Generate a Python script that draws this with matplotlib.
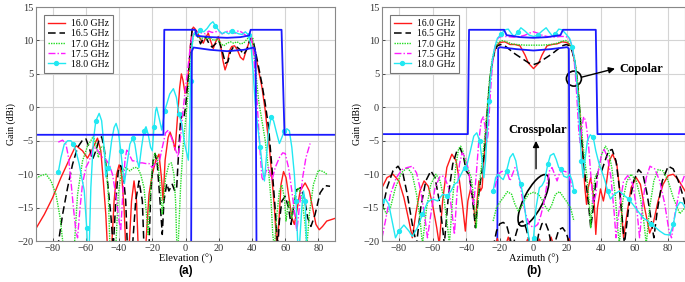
import matplotlib
matplotlib.use('Agg')
import matplotlib.pyplot as plt
from matplotlib.patches import Ellipse
from matplotlib.transforms import ScaledTranslation

plt.rcParams['font.family'] = 'Liberation Serif'

# ---------------- data: elevation cut (a) ----------------
el_mask_hi = [(-90, -4.1), (-13.3, -4.1), (-12.8, 11.6), (5.8, 11.6), (6.6, 10.7), (15, 10.5), (25, 10.4),
              (33, 10.5), (38.3, 10.75), (39.2, 11.6), (57.8, 11.6), (59.6, -4.1), (90, -4.1)]
el_mask_lo = [(3.4, -20), (3.8, 8.4), (4.8, 8.95), (15, 8.6), (25, 8.4), (35, 8.6), (41.2, 8.95),
              (42.2, 8.2), (42.7, -20)]

el_160 = [(-90, -18.1), (-85, -16), (-80, -13.5), (-75, -10.5), (-70, -7.8), (-66, -5.7), (-62, -6.5),
          (-59, -7.6), (-56, -6.2), (-53, -4.6), (-51, -6.5), (-49.5, -11), (-48, -16), (-47, -21),
          (-44.5, -21), (-43, -14), (-41.5, -10), (-40, -8.6), (-38.5, -10), (-37, -15), (-36, -21),
          (-34, -21), (-32.5, -14), (-31, -11), (-29.5, -14), (-28.5, -21), (-24, -21), (-22, -13),
          (-20, -10), (-18, -8), (-16, -7), (-14.5, -10.5), (-13.5, -13.9), (-12.3, -7.9), (-10.5, -4.5),
          (-9.3, -3.7), (-7.5, -5), (-6.3, -6.4), (-5, -2), (-3.5, 3), (-2.5, 5), (-1.5, 4), (-0.3, 2.1),
          (1, 3), (2, 6), (3, 9.5), (4, 11.6), (4.7, 12), (5.5, 11.8), (7, 11.3), (9, 10.2), (10.7, 9.6),
          (12, 10.4), (13.7, 11.1), (15, 10), (16.7, 8.8), (18, 9.7), (19.7, 10.6), (21, 9.5), (22.5, 7),
          (23.8, 5.6), (25, 6.5), (26.5, 8.5), (27.8, 9.1), (29.5, 9.2), (31.2, 8.6), (33, 7.5),
          (34.8, 7.1), (36.5, 8.5), (38.8, 10.1), (40, 10), (42, 8), (44, 5.5), (46, 3), (48, -0.5),
          (49, -2.9), (50.5, -6), (52, -10.5), (53.5, -15), (55, -21), (56, -18), (57.5, -11.5),
          (59, -9.6), (60.5, -10.5), (62, -13), (64, -16.5), (65.5, -17.5), (67, -15.5), (69, -12.5),
          (72, -11.3), (74.5, -12.5), (76.5, -15), (78.5, -17.5), (80.5, -18.3), (82.5, -17.8),
          (85, -17), (90, -16.6)]

el_165 = [(-77, -21), (-74, -16), (-71, -12), (-68, -8.5), (-65, -6), (-62, -4.9), (-60, -4.7),
          (-58, -6), (-56, -7.8), (-54, -6.5), (-52, -4.8), (-50.5, -4.4), (-49, -6), (-47, -11),
          (-45, -16), (-43.5, -21), (-42, -14), (-40.5, -9.5), (-39, -8.7), (-37.5, -10), (-36, -14),
          (-35, -21), (-32, -21), (-30, -14), (-28, -11), (-26, -14), (-25, -21), (-22, -21), (-21, -13),
          (-19.5, -8), (-18.4, -6.9), (-17, -8.5), (-15.5, -13.5), (-14, -19), (-13, -14), (-11.3, -11.4),
          (-10, -12.5), (-8, -11.5), (-6.5, -12.5), (-5.3, -11.9), (-4, -6), (-3, -2), (-2.3, -0.9),
          (-1, -1.5), (0, 0), (1.5, 4), (3, 9), (4, 11.7), (5, 11.8), (6, 11.5), (7.5, 10.5), (9, 9.5),
          (10.5, 10.2), (12, 10.6), (14, 9.6), (16, 9), (18, 9.5), (20, 10), (22, 8.5), (24, 6.6),
          (25.5, 6.8), (27, 8.3), (29, 9.1), (31, 9), (33, 8.6), (35, 7.9), (37, 8.7), (39, 10.3),
          (40.5, 10.2), (42, 8.5), (44, 6), (46, 3.5), (48, 0.5), (50, -3), (51.5, -7.5), (53, -12),
          (54.5, -17), (55.5, -21), (56.5, -17), (58, -14), (60, -13.3), (62, -15), (63.5, -17.5),
          (65, -15), (67, -12.3), (69.5, -12), (71.5, -13.5), (73.5, -16.5), (75.5, -17.8), (78, -16),
          (81, -12.8), (84, -11.7), (87, -11.8)]

el_170 = [(-90, -10.6), (-87, -10.2), (-84, -10), (-81, -11), (-78, -13), (-75.5, -16.5), (-73.5, -21),
          (-67, -21), (-65, -13), (-62, -8), (-59, -5.8), (-57.5, -5.2), (-55.5, -4.3), (-54, -5.5),
          (-52.5, -7.5), (-51, -6), (-49.5, -5.8), (-48, -8), (-46.5, -13), (-45.5, -21), (-42, -21),
          (-40.5, -13), (-38.5, -9.5), (-36, -9), (-33.5, -9.5), (-31, -9), (-29, -9), (-27, -10),
          (-25, -12), (-23.5, -16), (-22.5, -19), (-21.5, -14), (-20, -9), (-18.5, -6.8), (-17, -7.5),
          (-15.5, -11), (-14, -16), (-13.3, -14), (-12, -10.5), (-10, -8.5), (-8.5, -8.3), (-7, -10),
          (-6, -14), (-5.3, -20), (-4.5, -21), (-3, -12), (-1.5, -6), (0, -2), (1.5, 2), (3, 6.5),
          (4.5, 10.5), (6, 11.2), (7.5, 10.6), (9, 10.2), (11, 10.5), (13, 10.2), (15, 10.4), (17, 10),
          (19, 10.2), (21, 9.6), (23, 9.2), (25, 9.6), (27, 9.8), (29, 9.6), (31, 9.8), (33, 9.5),
          (35, 9.6), (37, 10.2), (39, 10.7), (40.5, 10.3), (42, 6), (44, 1), (46, -2), (48, -5),
          (50, -9.5), (51.5, -14), (52.5, -19), (53.5, -21), (55, -16), (56.5, -12.5), (58, -11.6),
          (59.5, -13.5), (60.5, -17), (62, -14), (64, -16.5), (66, -13), (68, -12), (70, -13.5),
          (72, -17.5), (73, -21), (74.5, -16), (77, -11.5), (80, -9.4), (83, -9.6), (85.5, -10.1)]

el_175 = [(-76.6, -5.2), (-74, -4.9), (-72, -5.5), (-70.5, -7.4), (-69, -11), (-67.5, -15), (-66, -18.5),
          (-65, -19.5), (-63.5, -15), (-62, -11.4), (-60, -9), (-58, -8), (-56, -6.4), (-54, -6),
          (-52, -6.8), (-50, -7.5), (-48, -7.8), (-46, -8.5), (-44, -10), (-42, -13), (-40, -17),
          (-39, -18.4), (-38, -14), (-36.5, -8), (-35.4, -6.4), (-34, -7), (-32, -8), (-30, -8),
          (-28, -8.3), (-26, -8.3), (-24, -8.4), (-22, -8.4), (-20, -9), (-18.5, -8.5), (-17, -8),
          (-15.5, -7.8), (-14, -6), (-12, -3.8), (-10.3, -3.4), (-8.5, -4.5), (-6.5, -6), (-4.5, -7.4),
          (-3, -4.5), (-1.5, -0.5), (0, 3), (1.5, 6), (3, 9.5), (4.5, 11), (6, 11.2), (8, 11.3),
          (10, 11.1), (12, 11), (14, 11.4), (16, 11.2), (18, 11.3), (20, 11.4), (22, 11), (24, 11.2),
          (26, 11.5), (28, 11.2), (30, 11.1), (32, 11.5), (34, 11.2), (36, 10.8), (38, 10.9),
          (39.5, 10.4), (41, 8), (42.5, 3), (44, -3), (45, -7), (46, -10.5), (47, -11), (48.5, -9.5),
          (50, -9), (52, -10.9), (54, -9), (56.5, -7.5), (58.5, -6.8), (60, -6.9), (62, -9),
          (64, -12.5), (66, -16.5), (67, -18.5), (68.5, -15), (70.5, -10.5), (72.5, -7.5), (75, -5.4)]

el_180 = [(-76.6, -9.7), (-75, -7.5), (-73, -5.5), (-71, -5), (-69, -5), (-67.5, -5.5), (-66, -6.5),
          (-64, -8.5), (-62.5, -10.5), (-61, -12.4), (-59.5, -18), (-59, -21), (-58, -21), (-57, -12),
          (-55.5, -5), (-54, -2), (-52, -0.9), (-50.5, -2), (-49, -6), (-48, -10.4), (-46.5, -9),
          (-44.5, -5), (-43, -3), (-41.8, -2.4), (-40.5, -3.5), (-39, -6.5), (-37.5, -10), (-36.8, -11.4),
          (-35.5, -9), (-33.5, -5.5), (-31.8, -4.6), (-30.5, -5.5), (-29, -8), (-28, -9), (-26.5, -6),
          (-25, -3.5), (-23.8, -2.9), (-22.5, -4), (-21, -6), (-20, -6.5), (-19, -3), (-18, -0.5),
          (-17.4, 0), (-16, -1.5), (-14.3, -3.4), (-12.5, -0.5), (-11.3, 0.5), (-9.5, 2), (-7.3, 2.8),
          (-5.5, 1.5), (-4, -1), (-2.3, -2.4), (-0.5, -5.5), (1.7, -7.9), (2.5, -2), (3, 4), (3.5, 8),
          (4.5, 10.5), (5.5, 11.2), (7, 11), (9, 11.5), (11, 11.3), (13, 11.8), (15, 12.5), (16.5, 12.8),
          (18, 12.2), (20, 11.5), (22, 11), (24, 11.3), (26, 11), (28, 11.4), (30, 11.2), (32, 11),
          (34, 10.9), (36, 11.3), (38, 10.8), (39.5, 9), (40.5, 6), (42, 0.5), (43.5, -3), (45, -6),
          (46.5, -9.5), (47.5, -11), (48.5, -8), (50, -3.5), (51.5, -1.5), (53, -2), (55, -4),
          (56.5, -5.4), (58, -4.5), (59.5, -3.5), (61, -3.2), (62.5, -3.5), (64, -6), (65.5, -10),
          (66.5, -14), (67.5, -20), (68.5, -21), (70, -15), (71, -12.5), (72, -14), (73, -21)]

# ---------------- data: azimuth cut (b) ----------------
az_mask_hi = [(-90, -4.0), (-39, -4.0), (-38.3, 11.6), (-17.5, 11.6), (-16, 10.8), (-8, 10.5), (0, 10.4),
              (8, 10.5), (16, 10.8), (17.5, 11.6), (37, 11.6), (38, -4.0), (90, -4.0)]
az_mask_lo = [(-21.5, -20), (-21, 8.8), (-20, 9.0), (-10, 8.7), (0, 8.5), (10, 8.7), (20, 9.0), (21, 8.8),
              (21.5, -20)]

az_160 = [(-90, -12), (-87, -10.5), (-83.5, -10), (-80, -11), (-77, -13.5), (-74, -17), (-72, -19.5),
          (-70, -16), (-67.5, -12.5), (-65, -11), (-62.5, -11.8), (-60, -14.5), (-57.5, -18), (-56, -20.5),
          (-54, -14), (-51.5, -9), (-48.5, -7), (-46, -8), (-44, -11), (-42, -15), (-40.5, -18.5),
          (-39, -14), (-37.5, -12.3), (-36, -13.5), (-34.5, -17.5), (-33.5, -14), (-32.5, -11),
          (-31.5, -12.5), (-30.5, -12), (-29.5, -8), (-28.5, -4.5), (-27.5, -1), (-26.5, 2.5), (-25, 6),
          (-23.5, 8), (-22, 9.2), (-20, 9.7), (-17, 9.8), (-14, 9.4), (-11, 9.4), (-8, 9.2), (-5, 7.8),
          (-3, 6.6), (0, 5.8), (3, 6.6), (5, 7.8), (8, 9.2), (11, 9.4), (14, 9.5), (17, 9.8), (20, 9.7),
          (22, 9.2), (23.5, 8), (25, 6), (26.5, 2.5), (27.5, -1), (28.5, -4.5), (29.5, -8), (30.5, -12),
          (31.5, -14.5), (32.5, -12), (34, -10.5), (36, -14), (37, -19), (38, -15), (39.8, -12.2),
          (41.5, -14), (43, -12), (45, -8), (47, -7), (49.5, -8.5), (51.5, -13), (53.5, -19.5),
          (55.5, -16), (58, -12), (61, -10.5), (63.5, -11.5), (66, -15), (69, -18.8), (71, -17.5),
          (74, -14), (77, -11.5), (80, -10.2), (83, -10), (86, -10.8), (90, -12.5)]

az_165 = [(-90, -15.5), (-87, -12), (-83.5, -9.5), (-80.5, -8.8), (-77.5, -10), (-75, -13), (-72, -17.5),
          (-69.5, -20.5), (-67, -15), (-64, -11), (-61, -9.5), (-58.5, -10.5), (-56, -14), (-54, -18),
          (-53, -20.5), (-50.5, -13), (-48, -8.5), (-45.5, -6.5), (-43.5, -6.1), (-41.5, -7.5),
          (-40, -9.5), (-38.5, -10), (-37, -12), (-35.5, -15.5), (-34.5, -18), (-33, -14), (-31.5, -11),
          (-30, -8.5), (-29, -6), (-28, -2.5), (-27, 1), (-26, 4), (-24.5, 6.8), (-23, 8.4), (-21.5, 9.2),
          (-19.5, 9.4), (-17, 9.2), (-14, 8.6), (-11, 8), (-8, 7.5), (-5, 7), (-2.5, 6.6), (0, 6.4),
          (2.5, 6.6), (5, 7), (8, 7.5), (11, 8), (14, 8.6), (17, 9.2), (19.5, 9.4), (21.5, 9.2), (23, 8.4),
          (24.5, 6.8), (26, 4), (27, 1), (28, -2.5), (29, -6), (30, -8.5), (31, -11), (32.5, -14),
          (34, -18), (35.5, -15), (37, -11), (38.5, -9.5), (40.5, -9.5), (42.5, -8), (44.5, -6.5),
          (46.7, -6.3), (49, -8), (51, -12), (53, -17.5), (54, -20.5), (56.5, -15), (59.5, -11),
          (62.4, -9.3), (65, -10), (67.5, -13), (70, -17), (71.5, -19.5), (73.5, -15.5), (76.5, -11),
          (80, -8.8), (83, -9.2), (86, -11), (88.8, -13.2), (90, -14.5)]

az_170 = [(-90, -14.5), (-87.5, -15.9), (-85, -15), (-82, -12), (-78.5, -9.8), (-75, -9), (-72, -10),
          (-69.5, -13), (-67.5, -16.5), (-66, -20.5), (-63.5, -15), (-61, -11.5), (-58, -10), (-55.5, -11),
          (-53, -14), (-51, -18), (-50, -20.5), (-48, -13.5), (-46, -8.5), (-44.5, -6.2), (-43.3, -5.8),
          (-42, -6.5), (-40, -8.5), (-38.5, -9.5), (-37, -10.5), (-35.5, -13.5), (-34, -18), (-33, -14),
          (-31.5, -10), (-30, -7), (-29, -4.5), (-28, -1.5), (-27, 1.5), (-26, 4.5), (-24.5, 7.2),
          (-23, 8.8), (-21, 9.7), (-19, 10), (-16, 9.8), (-13, 9.5), (-10, 9.4), (-5, 9.3), (0, 9.3),
          (5, 9.3), (10, 9.4), (13, 9.5), (16, 9.8), (19, 10), (21, 9.7), (23, 8.8), (24.5, 7.2),
          (26, 4.5), (27, 1.5), (28, -1.5), (29, -4.5), (30, -7), (31.5, -10), (33, -14), (34, -18),
          (35, -14), (36.5, -10.5), (38.5, -9.5), (40.5, -7), (42.7, -5.8), (44.5, -6.5), (46.5, -9),
          (48.5, -13), (50, -18), (51, -20.5), (53, -14), (55.5, -11), (58, -10), (61, -11),
          (63.5, -13.5), (65.5, -17), (67, -20.5), (69, -15), (71.5, -11), (74, -9.3), (77, -9.5),
          (80, -11), (83, -13.5), (86.9, -15.9), (90, -15)]

az_175 = [(-90, -19.5), (-88, -17), (-85, -13), (-81.5, -10.5), (-78, -9.3), (-75, -9), (-72, -8.8),
          (-69.5, -9.8), (-67, -12.5), (-64.5, -16.5), (-63, -19.5), (-61, -16), (-58.5, -12),
          (-55.5, -10.3), (-53, -10.3), (-50.5, -12), (-48.5, -15.5), (-47, -19), (-45.5, -13),
          (-44, -8.5), (-42.4, -6.8), (-40.5, -7.5), (-38.5, -9.5), (-37, -13), (-35.5, -14.5),
          (-34, -10), (-32.5, -5), (-31, -2), (-29.8, -1.4), (-28.7, -3), (-27.8, -5.3), (-27, -4),
          (-26, 0.5), (-25, 4.5), (-24, 7.5), (-22.5, 9.5), (-21, 10.4), (-19, 10.6), (-16, 10.6),
          (-12, 10.5), (-8, 10.6), (-5, 10.8), (-2.5, 11.1), (0, 11.3), (2.5, 11.1), (5, 10.8), (8, 10.6),
          (12, 10.5), (16, 10.6), (19, 10.6), (21, 10.4), (22.5, 9.5), (24, 7.5), (25, 4.5), (26, 0.5),
          (27, -4), (27.8, -5.3), (28.7, -3), (29.8, -1.4), (31, -2), (32.5, -5), (34, -10), (35.5, -14.5),
          (37, -13), (38.5, -9.5), (40.5, -7), (42, -6.3), (44, -7.5), (46, -10.5), (48, -16), (49, -19.5),
          (51, -15), (53.5, -11), (56, -10.2), (59, -11.5), (61.5, -15.5), (63, -19.5), (65, -14),
          (67, -10.5), (69.2, -8.8), (72, -9.2), (75, -11), (78, -14.5), (80.5, -18.5), (82, -19.5),
          (84, -16), (87, -12), (90, -10)]

az_180 = [(-90, -14), (-88, -13.7), (-86, -14.5), (-84, -17), (-82, -19.5), (-80, -18.5), (-77, -17.6),
          (-74, -18.5), (-72, -19.3), (-69, -18), (-66, -16), (-63, -14.2), (-60, -13.7), (-57, -14),
          (-54, -13), (-51.2, -13.2), (-49, -12.5), (-47, -11.5), (-45.3, -11.2), (-43, -10), (-41, -9),
          (-39.4, -8.5), (-37.5, -6.5), (-35.5, -4.3), (-33.7, -3.8), (-32, -5), (-30.5, -8),
          (-29.5, -10.5), (-28.5, -8), (-27.5, -3.5), (-26.5, 1), (-25.5, 4.5), (-24.5, 7), (-23, 9),
          (-21.5, 10.3), (-19.5, 10.9), (-17, 11.6), (-15, 11.7), (-13, 11), (-11.5, 10.6), (-9.5, 11.2),
          (-7.5, 11.9), (-5, 11.4), (-2.5, 10.8), (0, 10.6), (2.5, 10.8), (5, 11.4), (7.5, 11.9),
          (9.5, 11.2), (11.5, 10.6), (13, 11), (15, 11.7), (17, 11.6), (19.5, 10.9), (21.5, 10.3),
          (23, 9), (24.5, 7), (25.5, 4.5), (26.5, 1), (27.5, -3.5), (28.5, -8), (29.5, -10.5), (30.5, -8),
          (32, -5), (33.7, -4.1), (35.5, -4.5), (37, -6.5), (38.8, -8.3), (40.5, -9.5), (42.5, -11),
          (44, -12.5), (45.7, -13.7), (48, -13), (51, -12.5), (54, -13.2), (56.5, -13.7), (59, -14.5),
          (62, -15.5), (65, -16.5), (68, -17), (70, -17.5), (72.2, -17.9), (75, -18.5), (78, -19),
          (81, -19.1), (83, -17.5), (85, -15), (86.9, -14.2), (88.5, -14.3), (90, -15)]

# crosspolar (azimuth cut only)
xp_160 = [(-23, -21), (-21.5, -19.6), (-20, -21), (-17, -21), (-15, -19.4), (-13, -21), (-5.5, -21),
          (-3.5, -19.7), (-1.5, -21), (1.5, -21), (3.5, -19.7), (5.5, -21), (8.5, -21), (10.4, -19.4),
          (12.5, -21), (19, -21), (21, -19.6), (23, -21)]
xp_165 = [(-24, -21), (-22, -18.5), (-20, -17.4), (-18, -17.2), (-16, -17.6), (-14, -19.5), (-12.5, -21),
          (-10.5, -19), (-8.5, -17.3), (-6.5, -17), (-4.5, -18), (-2.5, -20), (-1.5, -21), (1.5, -21),
          (3, -19), (5, -17.4), (7, -17.2), (9, -18.5), (11, -21), (13, -20), (15, -18.3), (17.3, -18),
          (19.5, -18.8), (21.5, -20.5), (22.5, -21)]
xp_170 = [(-24, -17), (-22, -15), (-20, -14.2), (-18, -13.5), (-15.5, -12.6), (-13, -13), (-11, -14.5),
          (-9, -15.5), (-7, -14.8), (-5, -13.8), (-3, -13), (0, -12.7), (3, -13), (5, -13.8), (7, -14.8),
          (9, -15.5), (11, -14.5), (13, -13), (15.5, -12.6), (18, -13.5), (20, -14.2), (22, -15), (24, -17)]
xp_175 = [(-23, -12), (-21, -10), (-19, -9.6), (-17, -9.5), (-15.5, -9.8), (-14, -11), (-12.5, -10),
          (-11, -9), (-9.5, -9.5), (-8, -11.5), (-6, -14.5), (-4.3, -16.2), (-2.5, -17.5), (0, -18),
          (2.5, -17.5), (4.3, -16.2), (6, -14.5), (8, -11.5), (9.5, -9.5), (11, -9), (12.5, -10), (14, -11),
          (15.5, -9.8), (17, -9.5), (19, -9.6), (21, -10), (23, -12)]
xp_180 = [(-24, -12.5), (-22.5, -10.5), (-21, -10), (-19.5, -10.5), (-18, -10.8), (-16, -9.5), (-14, -7.5),
          (-12.2, -6.9), (-10.5, -8), (-9.2, -10), (-7.5, -11.5), (-6, -13.5), (-4.5, -16.5), (-2.5, -20),
          (-1.5, -21), (0, -19.5), (1.5, -15), (3.5, -12), (5, -11.7), (6.5, -11), (8.5, -8.5), (10, -7.2),
          (12, -6.9), (13.5, -7.8), (15, -9), (16.3, -9.2), (18, -10.3), (20, -10.5), (21.5, -10),
          (23, -11), (24, -12.5)]

freqs = ['16.0 GHz', '16.5 GHz', '17.0 GHz', '17.5 GHz', '18.0 GHz']

# line styles per frequency
styles = [dict(color='#ff1a1a', lw=1.0, ls='-'),
          dict(color='black', lw=1.1, dashes=(5, 2.5)),
          dict(color='#22dd22', lw=1.0, dashes=(1, 0.8)),
          dict(color='#ff1aff', lw=1.0, dashes=(5, 1.5, 1, 1.5)),
          dict(color='#22e8f2', lw=1.0, ls='-', marker='o', ms=2.8, markevery=5)]
mask_style = dict(color='#1a1aff', lw=1.3)


def xy(pts):
    return [p[0] for p in pts], [p[1] for p in pts]


fig = plt.figure(figsize=(6.85, 2.82), dpi=100)
ax1 = fig.add_axes([0.0526, 0.145, 0.4365, 0.830])
ax2 = fig.add_axes([0.5577, 0.145, 0.4423, 0.830])

for ax, curves, masks, xl, tag in [
        (ax1, [el_160, el_165, el_170, el_175, el_180], [el_mask_hi, el_mask_lo], 'Elevation (°)', '(a)'),
        (ax2, [az_160, az_165, az_170, az_175, az_180], [az_mask_hi, az_mask_lo], 'Azimuth (°)', '(b)')]:
    for c, st, lab in zip(curves, styles, freqs):
        ax.plot(*xy(c), label=lab, **st)
    for m in masks:
        ax.plot(*xy(m), **mask_style)
    ax.set_xlim(-90, 90)
    ax.set_ylim(-20, 15)
    ax.set_xticks(range(-80, 81, 20))
    ax.set_yticks(range(-20, 16, 5))
    ax.grid(True, color='#d4d4d4', lw=0.8)
    ax.set_axisbelow(True)
    ax.tick_params(labelsize=7.5, direction='in', length=2.5, width=0.6, colors='#333333', pad=2)
    for s in ax.spines.values():
        s.set_color('#888888')
        s.set_linewidth(0.8)
    ax.set_xlabel(xl, fontsize=7.5, labelpad=1)
    ax.set_ylabel('Gain (dBi)', fontsize=7, labelpad=1)
    leg = ax.legend(loc='upper left', fontsize=7, handlelength=1.7, handletextpad=0.6,
                    labelspacing=0.12, borderpad=0.45, borderaxespad=0.8, fancybox=False,
                    framealpha=1, edgecolor='#777777')
    leg.get_frame().set_linewidth(0.8)
    ax.text(0.5, -0.10, tag, transform=ax.transAxes, ha='center', va='top',
            fontsize=8.5, fontweight='bold', family='Liberation Sans')

for c, st in zip([xp_160, xp_165, xp_170, xp_175, xp_180], styles):
    ax2.plot(*xy(c), **st)

# annotations on the azimuth plot
circ = Ellipse((0, 0), 0.15, 0.15, fill=False, lw=1.2, color='black',
               transform=fig.dpi_scale_trans + ScaledTranslation(24, 4.3, ax2.transData))
ax2.add_patch(circ)
ax2.annotate('', xy=(50, 5.9), xytext=(26.8, 4.4),
             arrowprops=dict(arrowstyle='-|>', color='black', lw=1.0, mutation_scale=9))
ax2.text(51, 5.8, 'Copolar', fontsize=9, fontweight='bold', va='center', ha='left')

ell = Ellipse((0, 0), 0.57, 0.19, angle=63, fill=False, lw=1.2, color='black',
              transform=fig.dpi_scale_trans + ScaledTranslation(0, -13.9, ax2.transData))
ax2.add_patch(ell)
ax2.annotate('', xy=(1.5, -4.6), xytext=(1.5, -9.6),
             arrowprops=dict(arrowstyle='-|>', color='black', lw=1.0, mutation_scale=9))
ax2.text(2.2, -3.4, 'Crosspolar', fontsize=9, fontweight='bold', va='center', ha='center')

fig.savefig('out.png', dpi=100)
